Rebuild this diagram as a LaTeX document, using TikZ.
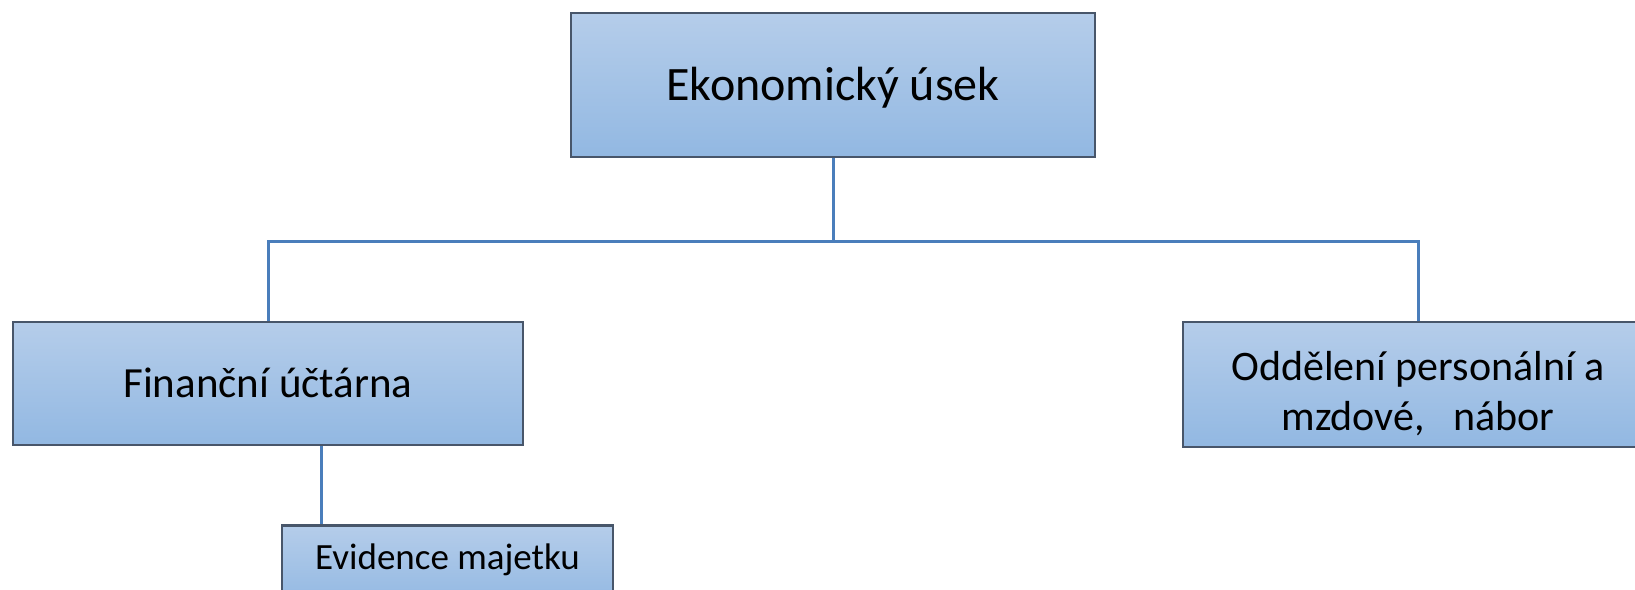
\documentclass[tikz,border=0pt]{standalone}
\usepackage{fontspec}
\setmainfont{Carlito}
\usetikzlibrary{positioning,calc}

\definecolor{boxtop}{RGB}{181,205,234}
\definecolor{boxbot}{RGB}{146,184,226}
\definecolor{boxline}{RGB}{72,86,106}
\definecolor{linkblue}{RGB}{74,126,187}

\tikzset{
	unit/.style={rectangle,draw=boxline,line width=2.5pt,top color=boxtop,bottom color=boxbot,inner sep=0pt,align=center},
	link/.style={draw=linkblue,line width=3pt}
}

\begin{document}
\begin{tikzpicture}[x=1pt,y=-1pt]
\useasboundingbox (0,0) rectangle (1635,589);

\node[unit,minimum width=524pt,minimum height=144pt,text height=31pt,text depth=0pt,font=\fontsize{48}{58}\selectfont](ekon) at (833,85) {Ekonomický úsek};
\node[unit,minimum width=510pt,minimum height=123pt,text height=27.7pt,text depth=0pt,font=\fontsize{43}{52}\selectfont](fin) at (268,383.5) {Finanční účtárna};
\node[unit,minimum width=470pt,minimum height=125pt,text height=92pt,text depth=0pt,font=\fontsize{42}{50}\selectfont](odd) at (1418,384.5) {Oddělení personální a\\mzdové,\ \ \ nábor};
\node[unit,anchor=north,minimum width=331pt,minimum height=80pt,text height=24pt,text depth=16pt,font=\fontsize{37}{44}\selectfont](evid) at (447.5,524) {Evidence majetku};

\coordinate (bus) at (833,241);
\coordinate (evtop) at ($(evid.north west)+(41,0)$);

\draw[link] (ekon.south) -- (bus);
\foreach \x in {fin,odd}{
	\draw[link] (bus) -| (\x.north);
}
\draw[link] (evtop |- fin.south) -- (evtop);

\end{tikzpicture}
\end{document}
